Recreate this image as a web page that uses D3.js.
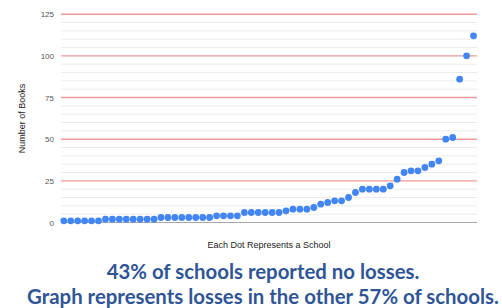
<!DOCTYPE html>
<html>
<head>
<meta charset="utf-8">
<script src="https://cdn.jsdelivr.net/npm/d3@7"></script>
<style>
  html, body { margin: 0; padding: 0; background: #fff; }
  svg { display: block; }
</style>
</head>
<body>
<svg id="chart" width="502" height="308"></svg>
<script>
// ---- data ----
const booksLost = [
  1, 1, 1, 1, 1, 1,
  2, 2, 2, 2, 2, 2, 2, 2,
  3, 3, 3, 3, 3, 3, 3, 3,
  4, 4, 4, 4,
  6, 6, 6, 6, 6, 6,
  7, 8, 8, 8, 9, 11, 12, 13, 13, 15, 18,
  20, 20, 20, 20, 22, 26, 30, 31, 31, 33, 35, 37,
  50, 51, 86, 100, 112
];
const majorTicks = [0, 25, 50, 75, 100, 125];
const minorTicks = [5, 10, 15, 20, 30, 35, 40, 45, 55, 60, 65, 70, 80, 85, 90, 95, 105, 110, 115, 120];
const yTitle = "Number of Books";
const xTitle = "Each Dot Represents a School";
const captionLines = [
  "43% of schools reported no losses.",
  "Graph represents losses in the other 57% of schools."
];

// ---- layout ----
const svg = d3.select("#chart");
const plot = { left: 61, right: 477, top: 14.2, bottom: 222.5 };

const x = d3.scaleLinear().domain([0.6, booksLost.length + 0.5]).range([plot.left, plot.right]);
const y = d3.scaleLinear().domain([0, 125]).range([plot.bottom, plot.top]);

// minor gridlines
svg.append("g").selectAll("line").data(minorTicks).join("line")
  .attr("x1", plot.left).attr("x2", plot.right)
  .attr("y1", d => y(d)).attr("y2", d => y(d))
  .attr("stroke", "#ebebeb").attr("stroke-width", 1);

// major gridlines (red)
svg.append("g").selectAll("line").data(majorTicks.filter(d => d > 0)).join("line")
  .attr("x1", plot.left).attr("x2", plot.right)
  .attr("y1", d => y(d)).attr("y2", d => y(d))
  .attr("stroke", "#ec9a9a").attr("stroke-width", 1.4);

// baseline
svg.append("line")
  .attr("x1", plot.left).attr("x2", plot.right)
  .attr("y1", y(0)).attr("y2", y(0))
  .attr("stroke", "#a8a8a8").attr("stroke-width", 1.2);

// y tick labels via axis
const yAxis = d3.axisLeft(y).tickValues(majorTicks).tickSize(0).tickPadding(0);
const yg = svg.append("g").attr("transform", `translate(${plot.left - 7},0)`).call(yAxis);
yg.select(".domain").remove();
yg.selectAll("text")
  .attr("font-family", "Liberation Sans, Arial, sans-serif")
  .attr("font-size", 8)
  .attr("fill", "#555");

// dots
svg.append("g").selectAll("circle").data(booksLost).join("circle")
  .attr("cx", (d, i) => x(i + 1))
  .attr("cy", d => y(d))
  .attr("r", 3.4)
  .attr("fill", "#4285f4");

// axis titles
svg.append("text")
  .attr("transform", `translate(25,118.5) rotate(-90)`)
  .attr("text-anchor", "middle")
  .attr("font-family", "Liberation Sans, Arial, sans-serif")
  .attr("font-size", 9)
  .attr("fill", "#222")
  .text(yTitle);

svg.append("text")
  .attr("x", 269).attr("y", 247.5)
  .attr("text-anchor", "middle")
  .attr("font-family", "Liberation Sans, Arial, sans-serif")
  .attr("font-size", 9)
  .attr("fill", "#222")
  .text(xTitle);

// caption
const capBase = [279, 303.5];
const cap = svg.append("g").selectAll("text").data(captionLines).join("text")
  .attr("x", 263).attr("y", (d, i) => capBase[i])
  .attr("text-anchor", "middle")
  .attr("font-family", "Lato, 'Open Sans', sans-serif")
  .attr("font-weight", "bold")
  .attr("font-size", 20)
  .attr("fill", "#2f5597")
  .text(d => d);
// fit font size so the long line spans the reference width
const longNode = cap.nodes()[1];
const w = longNode.getComputedTextLength();
const fs = 20 * 472 / w;
cap.attr("font-size", fs);
</script>
</body>
</html>
